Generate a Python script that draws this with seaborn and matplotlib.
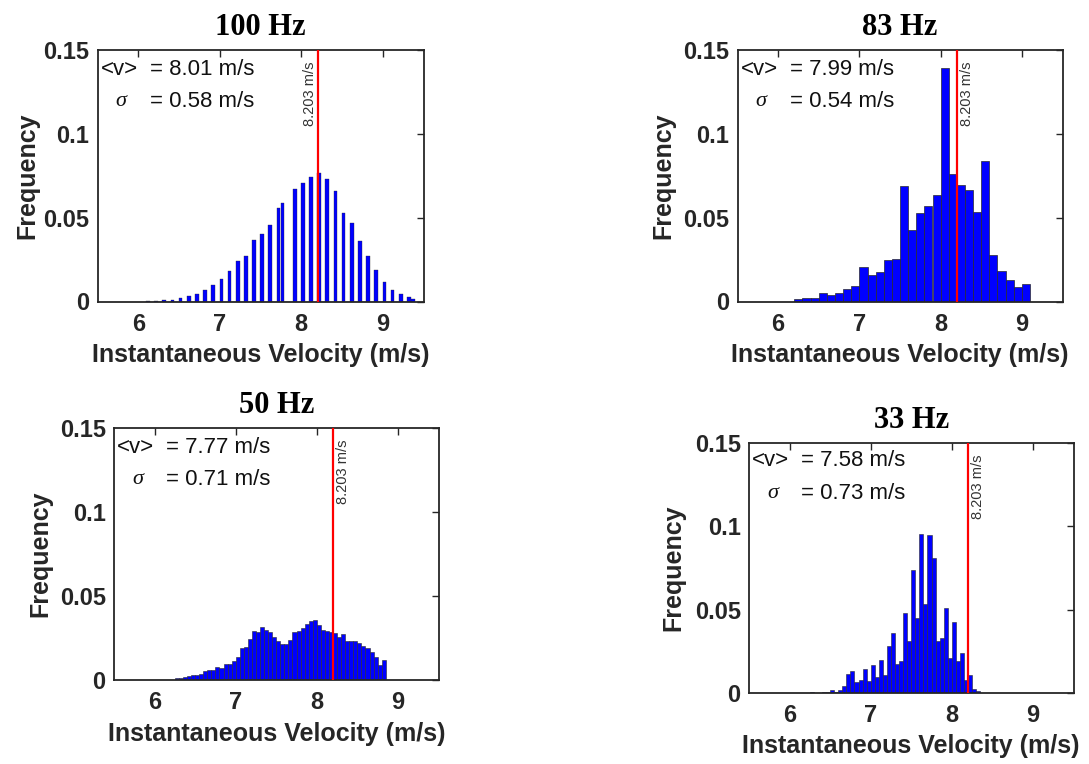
import numpy as np
import pandas as pd
import matplotlib
matplotlib.use("Agg")
import matplotlib.pyplot as plt
import seaborn as sns

# ---------------- data ----------------
titles = ["100 Hz", "83 Hz", "50 Hz", "33 Hz"]
mean_text = ["8.01", "7.99", "7.77", "7.58"]
sigma_text = ["0.58", "0.54", "0.71", "0.73"]
ref_velocity = 8.203
ref_label = "8.203 m/s"

# 100 Hz: narrow bars, centres (m/s) and frequencies
v100_centers = [6.12, 6.22, 6.32, 6.42, 6.52, 6.62, 6.72, 6.82, 6.92, 7.02,
                7.12, 7.22, 7.32, 7.42, 7.52, 7.62, 7.72, 7.77, 7.92, 8.02,
                8.12, 8.22, 8.32, 8.42, 8.52, 8.62, 8.72, 8.82, 8.92, 9.02,
                9.12, 9.22, 9.32, 9.37]
v100_freq = [0.0004, 0.0004, 0.0006, 0.0010, 0.0018, 0.0032, 0.0042, 0.0069,
             0.0101, 0.0137, 0.0179, 0.0244, 0.0274, 0.0367, 0.0405, 0.0454,
             0.0556, 0.0585, 0.0669, 0.0704, 0.0742, 0.0766, 0.0730, 0.0661,
             0.0528, 0.0466, 0.0363, 0.0274, 0.0185, 0.0115, 0.0071, 0.0042,
             0.0024, 0.0014]

# 83 Hz: bins of 0.1 m/s starting at 6.2
v83_start, v83_width = 6.2, 0.1
v83_freq = [0.0012, 0.0018, 0.0020, 0.0050, 0.0040, 0.0050, 0.0073, 0.0093,
            0.0208, 0.0160, 0.0175, 0.0248, 0.0252, 0.0689, 0.0427, 0.0530,
            0.0567, 0.0635, 0.1393, 0.0762, 0.0694, 0.0663, 0.0532, 0.0837,
            0.0278, 0.0183, 0.0127, 0.0089, 0.0105]

# 50 Hz: bins of 0.05 m/s starting at 6.25
v50_start, v50_width = 6.25, 0.05
v50_freq = [0.0010, 0.0014, 0.0020, 0.0024, 0.0030, 0.0030, 0.0034, 0.0054,
            0.0060, 0.0062, 0.0075, 0.0073, 0.0093, 0.0095, 0.0115, 0.0135,
            0.0188, 0.0198, 0.0242, 0.0292, 0.0288, 0.0313, 0.0298, 0.0286,
            0.0258, 0.0232, 0.0214, 0.0214, 0.0238, 0.0286, 0.0294, 0.0308,
            0.0333, 0.0351, 0.0355, 0.0325, 0.0296, 0.0292, 0.0286, 0.0278,
            0.0258, 0.0274, 0.0232, 0.0232, 0.0234, 0.0218, 0.0202, 0.0188,
            0.0169, 0.0139, 0.0089, 0.0119]

# 33 Hz: bins of 0.05 m/s starting at 6.25
v33_start, v33_width = 6.25, 0.05
v33_freq = [0.0006, 0.0002, 0.0000, 0.0006, 0.0004, 0.0016, 0.0006, 0.0016,
            0.0040, 0.0117, 0.0132, 0.0065, 0.0077, 0.0147, 0.0075, 0.0171,
            0.0096, 0.0201, 0.0106, 0.0283, 0.0361, 0.0176, 0.0190, 0.0483,
            0.0313, 0.0738, 0.0448, 0.0954, 0.0533, 0.0950, 0.0813, 0.0313,
            0.0328, 0.0512, 0.0211, 0.0424, 0.0194, 0.0243, 0.0076, 0.0110,
            0.0024, 0.0014]

x_ticks = [6, 7, 8, 9]
y_ticks = [0, 0.05, 0.1, 0.15]
y_ticklabels = ["0", "0.05", "0.1", "0.15"]

# ---------------- style ----------------
sns.set_theme(style="white")
plt.rcParams["font.family"] = ["Liberation Sans", "DejaVu Sans"]

DARK = "#262626"
BAR_FACE = "#0000FF"
BAR_EDGE = "#2a2a2a"
NARROW_W = 0.045

W, H = 1089, 764
fig = plt.figure(figsize=(W / 100, H / 100), dpi=100)
boxes = [(97.5, 50, 423.5, 301.5), (737.5, 50, 1062.5, 301.5),
         (114, 428, 438.5, 680), (749, 443, 1073.5, 693)]
axes = [fig.add_axes([l / W, 1 - b / H, (r - l) / W, (b - t) / H])
        for (l, t, r, b) in boxes]


def regular_bins(start, width, n):
    edges = np.round(start + width * np.arange(n + 1), 4)
    centers = (edges[:-1] + edges[1:]) / 2
    return list(edges), list(centers)


def narrow_bins(centers, width):
    edges = []
    for c in centers:
        edges += [c - width / 2, c + width / 2]
    return edges


panels = [(list(v100_centers), list(v100_freq), narrow_bins(v100_centers, NARROW_W))]
for start, width, freq in [(v83_start, v83_width, v83_freq),
                           (v50_start, v50_width, v50_freq),
                           (v33_start, v33_width, v33_freq)]:
    e, c = regular_bins(start, width, len(freq))
    panels.append((c, list(freq), e))

edge_lw = [0.25, 0.5, 0.4, 0.4]
ylabel_x = [-0.215, -0.229, -0.228, -0.233]
text_y = [(0.922, 0.797), (0.922, 0.797), (0.921, 0.795), (0.929, 0.80)]

for i, ax in enumerate(axes):
    centers, freq, edges = panels[i]
    df = pd.DataFrame({"velocity": centers, "frequency": freq})
    sns.histplot(data=df, x="velocity", weights="frequency", bins=edges,
                 ax=ax, stat="count", color=BAR_FACE, edgecolor=BAR_EDGE,
                 linewidth=edge_lw[i], alpha=1.0)

    ax.axvline(ref_velocity, color="#FF0000", lw=1.6, zorder=5)
    if i == 0:
        ax.text(ref_velocity - 0.012, 0.143, ref_label, rotation=90, ha="right",
                va="top", fontsize=10.5, color="#333333")
    else:
        ax.text(ref_velocity + 0.033, 0.143, ref_label, rotation=90, ha="left",
                va="top", fontsize=10.5, color="#333333")

    y1, y2 = text_y[i]
    ax.text(0.010, y1, "<v>", transform=ax.transAxes, fontsize=16,
            va="center", ha="left", color="#111111")
    ax.text(0.160, y1, "= " + mean_text[i] + " m/s", transform=ax.transAxes,
            fontsize=16, va="center", ha="left", color="#111111")
    ax.text(0.055, y2, "σ", transform=ax.transAxes, fontsize=16,
            fontfamily="Liberation Serif", style="italic", va="center",
            ha="left", color="#111111")
    ax.text(0.160, y2, "= " + sigma_text[i] + " m/s", transform=ax.transAxes,
            fontsize=16, va="center", ha="left", color="#111111")

    ax.set_xlim(5.5, 9.5)
    ax.set_ylim(0, 0.15)
    ax.set_xticks(x_ticks)
    ax.set_xticklabels([str(t) for t in x_ticks])
    ax.set_yticks(y_ticks)
    ax.set_yticklabels(y_ticklabels)
    ax.tick_params(axis="both", direction="in", top=True, right=True,
                   length=5, width=1.0, color=DARK, labelcolor=DARK,
                   labelsize=17)
    ax.tick_params(axis="x", pad=8)
    ax.tick_params(axis="y", pad=6)
    for lab in ax.get_xticklabels() + ax.get_yticklabels():
        lab.set_fontweight("bold")
    for sp in ax.spines.values():
        sp.set_visible(True)
        sp.set_color(DARK)
        sp.set_linewidth(1.3)

    ax.set_xlabel("Instantaneous Velocity (m/s)", fontsize=18,
                  fontweight="bold", color=DARK)
    ax.xaxis.set_label_coords(0.5, -0.213)
    ax.xaxis.label.set_va("center")
    ax.set_ylabel("Frequency", fontsize=18, fontweight="bold", color=DARK)
    ax.yaxis.set_label_coords(ylabel_x[i], 0.5)
    ax.yaxis.label.set_va("center")

    ax.set_title(titles[i], fontfamily="Liberation Serif", fontweight="bold",
                 fontsize=22, color="black", pad=11)

fig.savefig("out.png", dpi=100, facecolor="white")
